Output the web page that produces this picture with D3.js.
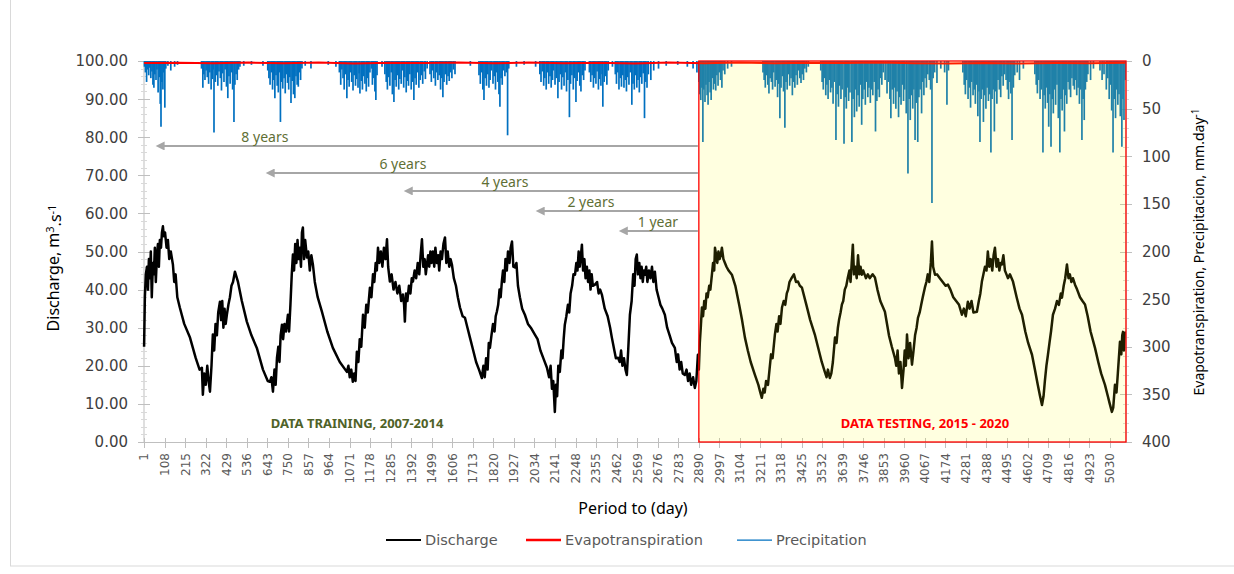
<!DOCTYPE html>
<html>
<head>
<meta charset="utf-8">
<title>Discharge, evapotranspiration and precipitation</title>
<script src="https://cdnjs.cloudflare.com/ajax/libs/d3/7.8.5/d3.min.js"></script>
<style>
  body { margin: 0; background: #fff; }
  svg { display: block; }
</style>
</head>
<body>
<svg id="chart" width="1234" height="574"></svg>
<script>

var nDays = 5114,
    splitDay = 2890;

// daily discharge, m3/s  [day, value]
var discharge = [
  [1,25],[5,38],[10,44],[16,46],[21,40],[26,48],[31,43],[36,50],[41,38],[47,47],[52,44],[57,51],[62,42],[68,49],
  [73,52],[78,46],[83,53],[89,51],[94,55],[99,56.6],[104,54],[110,55],[118,51],[125,53],[132,48],[140,50],
  [151,46.6],[158,42],[165,44],[174,38],[187,35.3],[210,31],[240,27.4],[270,22],[290,19],[302,19.5],[307,12.4],
  [314,18],[322,15],[330,20],[337,16],[344,13.2],[352,20],[359,28.2],[366,24],[373,31],[380,28],[387,34],
  [396,36.8],[402,32],[408,37],[414,30],[420,35],[426,31],[432,33.4],[440,36],[448,38],[456,41],[464,42],
  [474,44.7],[490,42],[510,37],[536,31.6],[560,28],[588,24.7],[620,19],[645,16],[656,15.8],[664,17],[672,13.2],
  [680,19],[686,15],[693,22.1],[700,25],[706,21],[712,28],[719,30.8],[725,27],[732,31],[740,29],[750,33.4],
  [756,29],[763,36],[770,44],[776,49.2],[782,45],[788,52],[794,47],[800,53],[806,48],[812,51],[818,46],[823,55],
  [828,56.3],[834,48],[840,53],[849,48.4],[856,50],[864,45],[872,49],[880,46.6],[890,42],[905,38],[927,34.2],
  [955,29],[984,24.7],[1020,21],[1057,18.4],[1065,20],[1072,17],[1080,19],[1088,15.8],[1095,18],[1102,16],
  [1109,23.7],[1117,21],[1124,27],[1132,25],[1141,33.4],[1150,30],[1158,36],[1166,34],[1177,40.5],[1185,38],
  [1193,44],[1200,42],[1207,47],[1213,45],[1219,51],[1226,47],[1234,50],[1242,46],[1250,51],[1258,48],
  [1266,53.2],[1272,46],[1281,42.1],[1290,44],[1300,40],[1310,42],[1320,39],[1330,41],[1340,37],[1349,38.7],
  [1355,36],[1359,31.6],[1365,39],[1372,37],[1380,41],[1388,39],[1395,43],[1401,42.1],[1410,45],[1418,43],
  [1426,47],[1434,44],[1441,49],[1448,53.2],[1455,46],[1462,48],[1468,44],[1474,46.6],[1480,49],[1486,46],
  [1492,50],[1498,47],[1505,50],[1512,46],[1518,51],[1525,47],[1532,49],[1538,45],[1545,50],[1552,48],
  [1560,52],[1568,53.7],[1575,47],[1582,50],[1590,46],[1597,48],[1604,46.6],[1614,43],[1625,41],[1635,38],
  [1646,35.3],[1660,33],[1672,32.6],[1685,30],[1698,27.4],[1715,24],[1730,21],[1745,19],[1760,16.8],[1768,20],
  [1775,17],[1782,22],[1790,19],[1796,26],[1802,24.7],[1810,28],[1818,31],[1826,29],[1832,33],[1838,34.2],
  [1845,36],[1852,40],[1858,38],[1864,42.1],[1870,45],[1877,42],[1883,48],[1890,45],[1896,50],[1904,47],
  [1910,51],[1917,52.6],[1924,46],[1932,45.8],[1940,47],[1948,41],[1958,38],[1970,35],[1984,33.4],[2000,31],
  [2015,30],[2036,28.2],[2050,27],[2065,24],[2080,22],[2099,19.5],[2110,17],[2118,20],[2125,14],[2132,16],
  [2140,7.9],[2146,15],[2152,12],[2158,20],[2166,18.4],[2174,24],[2180,22],[2186,27],[2192,30.8],[2200,33],
  [2208,36],[2215,34],[2222,39],[2230,41],[2237,44],[2245,43.9],[2252,47],[2258,45],[2264,50],[2270,46],
  [2276,49],[2281,51.8],[2287,45],[2294,48],[2300,43],[2307,46],[2313,42],[2320,45],[2326,40],[2332,44],
  [2338,41],[2349,41.3],[2360,42],[2368,39],[2376,40],[2385,38.7],[2400,35],[2415,33],[2428,30],[2437,27.4],
  [2450,24],[2458,22],[2469,22.1],[2478,21],[2485,24],[2492,20],[2500,22],[2508,19],[2515,17.6],[2522,24],
  [2531,33.4],[2540,37],[2548,44],[2555,41],[2561,48],[2567,49.2],[2573,44],[2580,47],[2586,43],[2592,46],
  [2598,42],[2604,45],[2609,43.9],[2616,46],[2622,42],[2630,45],[2638,43],[2646,46],[2653,42],[2661,44.7],
  [2670,40],[2680,38],[2690,36],[2700,35],[2713,33.4],[2725,30],[2738,28],[2750,26],[2765,24.7],[2775,21],
  [2782,23],[2790,19],[2798,21],[2806,18],[2817,17.6],[2826,19],[2834,16],[2842,18],[2850,15],[2860,17],
  [2869,14.2],[2877,16],[2885,22.9],[2890,19],[2895,26],[2900,30],[2906,35.3],[2912,33],[2918,37],[2924,35],
  [2930,39],[2936,38],[2944,41],[2950,40],[2958,43.9],[2964,47],[2970,45],[2974,51],[2980,49],[2986,47],
  [2992,50],[2998,48],[3004,49],[3010,51],[3018,48],[3026,47],[3034,46],[3045,45],[3062,43.9],[3080,41],
  [3100,36],[3115,32],[3130,27.4],[3145,24],[3160,21],[3182,17.6],[3200,15],[3210,13],[3218,11.6],[3226,14],
  [3233,13],[3240,16],[3250,15],[3258,19],[3266,23],[3274,22],[3286,28.2],[3294,31],[3300,29],[3308,33],
  [3315,31],[3323,35.3],[3332,37],[3340,36],[3348,39],[3355,40],[3362,42],[3375,43.2],[3385,44],[3396,42],
  [3406,42.1],[3416,41],[3427,40.5],[3450,36],[3470,32],[3494,28.2],[3510,25],[3530,21],[3546,18.4],[3555,17],
  [3562,19],[3572,16.8],[3580,18],[3588,21],[3599,27.4],[3607,26],[3614,30],[3620,32],[3628,34],[3635,36.1],
  [3642,37],[3650,40],[3658,41],[3666,43.2],[3674,45],[3680,42],[3686,47],[3692,51.8],[3698,44],[3705,46],
  [3712,43],[3719,49],[3726,44],[3732,46],[3739,43.9],[3746,45],[3753,44],[3760,43],[3770,44],[3780,43],
  [3795,44],[3807,43.2],[3820,40],[3835,37],[3859,34.2],[3880,28],[3895,25],[3911,22.1],[3918,20],[3925,24],
  [3932,18],[3940,21],[3948,14.2],[3956,19],[3962,24],[3968,20],[3974,28.2],[3982,22],[3990,26],[4000,20.3],
  [4008,24],[4016,28],[4024,30],[4031,32.6],[4040,34],[4048,36],[4056,38],[4067,40.5],[4075,42],[4082,44],
  [4090,42],[4098,47],[4104,52.6],[4110,46],[4120,43.9],[4130,44],[4145,43],[4160,42],[4175,41],[4187,41.3],
  [4200,40],[4215,38],[4230,37],[4245,36],[4260,33.4],[4270,35],[4280,33],[4291,36.8],[4300,35],[4310,37],
  [4320,34],[4338,34.2],[4348,37],[4356,39],[4364,42.1],[4372,44],[4380,46],[4388,45],[4395,50],[4402,46],
  [4410,48],[4418,45],[4425,49],[4432,51],[4440,46],[4448,48],[4455,45],[4462,47],[4468,46.6],[4476,49],
  [4484,45],[4492,44],[4500,43],[4510,44],[4526,42.1],[4545,38],[4560,35],[4573,33.4],[4590,29],[4605,26],
  [4625,22.9],[4640,19],[4655,15],[4667,12],[4677,9.7],[4685,12],[4692,16],[4700,20],[4708,22.9],[4716,26],
  [4724,29],[4734,33.4],[4745,35],[4755,37],[4765,36],[4775,39],[4781,37.9],[4790,41],[4798,43],[4807,46.6],
  [4815,43],[4822,44],[4830,42],[4838,43],[4849,41.3],[4860,40],[4875,38],[4888,37],[4901,36.1],[4915,33],
  [4930,29],[4953,24.7],[4970,21],[4985,18],[5005,15],[5020,12],[5030,10],[5041,7.9],[5048,9],[5057,15],
  [5065,13],[5072,18],[5080,24],[5083,26.3],[5090,23],[5095,28],[5099,28.9],[5104,24],[5108,29]
];

// daily precipitation, mm  [day, value]
var precipitation = [
  [3,6],[8,12],[14,22],[19,9],[25,15],[31,7],[36,18],[42,11],[47,25],[52,28],[57,14],[63,20],[68,9],[74,33],
  [80,17],[85,45],[89,69],[94,22],[99,30],[104,12],[109,49],[114,8],[125,5],[140,10],[160,6],[175,4],
  [300,8],[307,28],[312,14],[318,20],[324,10],[330,17],[337,24],[343,12],[350,30],[356,19],[361,9],[365,75],
  [372,22],[378,15],[385,26],[391,11],[398,18],[404,31],[410,13],[417,22],[423,9],[430,27],[437,39],[443,16],
  [449,24],[455,12],[462,30],[469,64],[474,25],[480,14],[486,20],[493,9],[500,6],[520,5],[560,4],
  [620,5],[645,10],[651,18],[657,25],[664,12],[670,30],[676,20],[682,39],[688,15],[694,26],[700,33],[706,12],
  [711,64],[717,22],[723,29],[730,18],[736,34],[742,14],[748,23],[754,30],[760,17],[766,44],[772,21],[779,35],
  [786,39],[792,16],[798,25],[804,27],[810,12],[816,20],[823,8],[840,5],[870,8],
  [960,4],[1000,6],[1018,12],[1025,25],[1031,9],[1037,18],[1043,30],[1050,14],[1057,39],[1063,20],[1069,27],
  [1076,12],[1082,22],[1089,31],[1095,15],[1102,26],[1108,19],[1115,28],[1121,13],[1125,34],[1132,21],
  [1138,30],[1145,16],[1151,24],[1158,32],[1164,18],[1170,27],[1177,12],[1185,8],[1190,25],[1197,18],
  [1203,32],[1208,41],[1214,15],
  [1240,6],[1255,14],[1262,22],[1268,30],[1275,17],[1281,26],[1288,12],[1294,35],[1302,43],[1308,20],
  [1314,27],[1321,15],[1327,30],[1333,19],[1340,24],[1346,10],[1353,28],[1359,17],[1366,33],[1372,21],
  [1378,26],[1385,14],[1392,30],[1399,22],[1406,41],[1412,18],[1418,25],[1425,12],[1432,28],[1439,20],
  [1446,15],[1452,24],[1460,11],[1466,19],[1475,8],[1490,14],[1497,22],[1503,10],[1510,18],[1518,26],
  [1524,12],[1531,20],[1538,15],[1545,30],[1551,18],[1557,38],[1563,22],[1570,14],[1577,25],[1584,16],
  [1590,21],[1597,12],[1604,18],[1612,9],[1620,14],
  [1700,5],[1745,15],[1752,24],[1758,12],[1765,30],[1771,41],[1777,18],[1784,26],[1790,14],[1797,28],
  [1803,20],[1810,10],[1818,24],[1824,16],[1831,30],[1837,12],[1843,22],[1849,35],[1854,48],[1860,18],
  [1866,25],[1872,10],[1880,16],[1887,12],[1894,78],[1900,8],[1940,6],[1980,4],
  [2040,6],[2062,14],[2068,22],[2075,11],[2082,26],[2088,18],[2095,30],[2101,12],[2108,24],[2115,16],
  [2121,28],[2128,20],[2134,10],[2141,25],[2148,18],[2156,39],[2162,22],[2169,14],[2175,30],[2182,17],
  [2188,26],[2195,12],[2201,32],[2208,20],[2216,59],[2222,24],[2229,15],[2236,30],[2243,18],[2250,43],
  [2256,21],[2263,12],[2270,26],[2276,32],[2283,15],[2290,20],[2297,10],
  [2320,12],[2327,22],[2334,15],[2341,28],[2347,18],[2354,24],[2360,11],[2367,30],[2373,19],[2380,26],
  [2386,14],[2390,48],[2397,22],[2404,16],[2411,25],[2418,10],
  [2440,6],[2455,14],[2461,24],[2468,12],[2474,30],[2481,18],[2487,27],[2494,15],[2500,28],[2507,20],
  [2513,32],[2519,17],[2526,25],[2533,12],[2541,46],[2547,24],[2554,30],[2560,15],[2567,28],[2573,20],
  [2580,33],[2586,17],[2593,24],[2600,13],[2607,60],[2613,22],[2620,28],[2627,14],[2640,20],[2655,10],
  [2680,8],[2720,5],[2780,4],[2830,6],[2860,8],[2880,12],
  [2890,22],[2895,35],[2900,41],[2906,28],[2911,85],[2916,30],[2922,43],[2927,25],[2933,36],[2938,46],
  [2943,22],[2949,33],[2954,41],[2960,18],[2966,30],[2972,24],[2978,31],[2984,15],[2990,26],[2996,12],
  [3003,20],[3010,28],[3016,10],[3025,14],[3040,8],[3060,6],
  [3224,12],[3230,20],[3236,28],[3242,15],[3249,25],[3255,34],[3261,18],[3268,22],[3274,30],[3280,12],
  [3287,27],[3293,20],[3300,38],[3306,24],[3312,60],[3318,28],[3325,16],[3331,32],[3338,70],[3344,22],
  [3350,30],[3357,14],[3363,26],[3370,18],[3377,36],[3383,22],[3390,28],[3396,15],[3403,25],[3409,10],
  [3416,18],[3422,23],[3428,14],[3435,20],[3442,8],[3450,12],[3460,6],
  [3525,10],[3532,22],[3538,30],[3545,18],[3551,36],[3557,25],[3563,40],[3570,20],[3576,33],[3583,28],
  [3589,45],[3596,22],[3604,83],[3610,35],[3617,48],[3623,26],[3630,40],[3636,30],[3646,87],[3652,38],
  [3658,50],[3664,28],[3670,42],[3677,33],[3687,85],[3693,40],[3700,59],[3706,30],[3712,53],[3719,36],
  [3725,48],[3731,25],[3738,67],[3744,40],[3751,30],[3757,46],[3763,22],[3770,38],[3776,28],[3783,44],
  [3790,30],[3796,36],[3803,22],[3810,74],[3817,42],[3823,30],[3830,38],[3836,18],[3843,25],[3850,12],
  [3860,20],[3870,34],[3877,22],[3885,40],[3890,60],[3897,30],[3904,45],[3910,28],[3916,50],[3922,32],
  [3930,59],[3936,38],[3943,46],[3950,25],[3956,42],[3962,30],[3970,55],[3979,118],[3985,40],[3991,62],
  [3997,36],[4004,50],[4010,30],[4016,83],[4022,44],[4030,85],[4036,38],[4042,30],[4050,55],[4056,22],
  [4062,36],[4068,18],[4075,28],[4082,14],[4090,20],[4097,30],[4104,149],[4110,18],[4118,12],[4130,23],
  [4150,8],[4170,12],[4182,46],[4190,10],
  [4265,12],[4272,25],[4278,35],[4285,20],[4292,40],[4298,28],[4305,49],[4311,22],[4318,36],[4324,30],
  [4330,45],[4337,25],[4343,58],[4349,32],[4354,85],[4360,40],[4366,30],[4372,64],[4378,36],[4385,50],
  [4391,28],[4398,42],[4404,35],[4411,96],[4417,40],[4423,30],[4429,74],[4436,32],[4442,45],[4448,20],
  [4455,30],[4462,38],[4468,16],[4475,26],[4482,14],[4490,20],[4497,30],[4503,40],[4510,22],[4515,34],
  [4521,83],[4528,28],[4535,15],[4548,12],[4560,20],[4580,8],
  [4640,14],[4647,25],[4653,34],[4660,20],[4667,40],[4673,30],[4682,96],[4688,36],[4694,50],[4700,28],
  [4706,44],[4712,69],[4718,35],[4724,90],[4730,40],[4736,55],[4742,30],[4748,46],[4755,25],[4762,60],
  [4770,96],[4776,40],[4782,52],[4788,30],[4794,74],[4800,36],[4806,45],[4813,22],[4819,30],[4826,38],
  [4833,18],[4840,26],[4846,30],[4852,20],[4858,36],[4865,28],[4872,45],[4878,30],[4885,83],[4891,40],
  [4897,62],[4903,30],[4910,22],[4916,14],[4930,20],[4945,8],
  [4979,10],[4990,20],[5000,14],[5012,30],[5020,18],[5027,40],[5033,25],[5040,52],[5047,96],[5053,40],
  [5060,60],[5066,30],[5072,46],[5078,35],[5085,58],[5093,90],[5099,40],[5104,62],[5110,20]
];

// evapotranspiration, mm/day  [day, value]
var evapotranspiration = [
  [1,2.2],[180,1.8],[365,2.4],[545,1.6],[730,2.3],[910,1.7],[1095,2.5],[1275,1.8],[1460,2.2],[1640,1.6],
  [1825,2.4],[2005,1.7],[2190,2.3],[2370,1.8],[2555,2.5],[2735,1.7],[2920,2.3],[3100,1.6],[3285,2.4],
  [3465,1.8],[3650,2.2],[3830,1.7],[4015,2.4],[4195,2.5],[4380,2.0],[4560,2.6],[4745,2.1],[4925,2.4],[5110,1.9]
];

var xTickLabels = [1,108,215,322,429,536,643,750,857,964,1071,1178,1285,1392,1499,1606,1713,1820,1927,2034,
  2141,2248,2355,2462,2569,2676,2783,2890,2997,3104,3211,3318,3425,3532,3639,3746,3853,3960,4067,4174,
  4281,4388,4495,4602,4709,4816,4923,5030];
var leftTicks = [0,10,20,30,40,50,60,70,80,90,100];
var rightTicks = [0,50,100,150,200,250,300,350,400];

// horizon arrows: point back from the split day to tipDay, at a discharge level
var horizons = [
  {label: '8 years', tipDay: 57,   level: 77.7, labelDay: 630},
  {label: '6 years', tipDay: 630,  level: 70.6, labelDay: 1349},
  {label: '4 years', tipDay: 1349, level: 65.9, labelDay: 1880},
  {label: '2 years', tipDay: 2036, level: 60.6, labelDay: 2328},
  {label: '1 year',  tipDay: 2469, level: 55.4, labelDay: 2677}
];

var legendItems = [
  {name: 'Discharge', color: '#000000', width: 2},
  {name: 'Evapotranspiration', color: '#ff0000', width: 2.5},
  {name: 'Precipitation', color: '#0070c0', width: 1.25}
];

var svg = d3.select('#chart'),
    plotLeft = 144,
    plotRight = 1126,
    plotTop = 61,
    plotBottom = 442,
    tickFont = '"DejaVu Sans", Verdana, sans-serif',
    titleFont = '"Noto Sans", "Open Sans", sans-serif';

var x = d3.scaleLinear().domain([0.5, nDays + 0.5]).range([plotLeft, plotRight]),
    yQ = d3.scaleLinear().domain([0, 100]).range([plotBottom, plotTop]),
    yP = d3.scaleLinear().domain([0, 400]).range([plotTop, plotBottom]);

// outer chart frame
svg.append('rect')
    .attr('x', 10.5).attr('y', -2).attr('width', 1230).attr('height', 568)
    .attr('fill', 'none').attr('stroke', '#d9d9d9');

// ---- axes ----
var axisColor = '#bfbfbf';

function drawYAxis(scale, xPos, major, minorStep, fmt, labelX, anchor) {
    var g = svg.append('g');
    g.append('line').attr('x1', xPos).attr('x2', xPos)
        .attr('y1', plotTop).attr('y2', plotBottom).attr('stroke', axisColor);
    var dom = scale.domain();
    var minor = d3.range(dom[0], dom[1] + 0.001, minorStep);
    g.selectAll('.minor').data(minor).join('line')
        .attr('x1', xPos - 3).attr('x2', xPos + 3)
        .attr('y1', function (d) { return Math.round(scale(d)) + 0.5; })
        .attr('y2', function (d) { return Math.round(scale(d)) + 0.5; })
        .attr('stroke', '#d9d9d9');
    g.selectAll('.major').data(major).join('line')
        .attr('x1', xPos - 6).attr('x2', xPos + 6)
        .attr('y1', function (d) { return Math.round(scale(d)) + 0.5; })
        .attr('y2', function (d) { return Math.round(scale(d)) + 0.5; })
        .attr('stroke', axisColor);
    g.selectAll('text').data(major).join('text')
        .attr('x', labelX)
        .attr('y', function (d) { return scale(d); })
        .attr('dy', '0.36em')
        .attr('text-anchor', anchor)
        .attr('font-family', tickFont)
        .attr('font-size', 15)
        .attr('fill', '#404040')
        .text(fmt);
}

drawYAxis(yQ, plotLeft, leftTicks, 2, d3.format('.2f'), 128, 'end');
drawYAxis(yP, plotRight, rightTicks, 10, function (d) { return d; }, 1142, 'start');

// x axis
var xg = svg.append('g');
xg.append('line').attr('x1', plotLeft).attr('x2', plotRight)
    .attr('y1', plotBottom + 0.5).attr('y2', plotBottom + 0.5).attr('stroke', axisColor);
xg.selectAll('.xt').data(xTickLabels).join('line')
    .attr('x1', function (d) { return Math.round(x(d)) + 0.5; })
    .attr('x2', function (d) { return Math.round(x(d)) + 0.5; })
    .attr('y1', plotBottom - 4).attr('y2', plotBottom + 6)
    .attr('stroke', axisColor);
xg.selectAll('text').data(xTickLabels).join('text')
    .attr('transform', function (d) { return 'translate(' + x(d) + ',' + (plotBottom + 11) + ') rotate(-90)'; })
    .attr('dy', '0.36em')
    .attr('text-anchor', 'end')
    .attr('font-family', tickFont)
    .attr('font-size', 12)
    .attr('fill', '#595959')
    .text(function (d) { return d; });

// ---- series ----
svg.append('g').selectAll('line').data(precipitation).join('line')
    .attr('x1', function (d) { return x(d[0]); })
    .attr('x2', function (d) { return x(d[0]); })
    .attr('y1', yP(0))
    .attr('y2', function (d) { return yP(d[1]); })
    .attr('stroke', '#0070c0')
    .attr('stroke-width', 1.7);

svg.append('path')
    .datum(evapotranspiration)
    .attr('fill', 'none')
    .attr('stroke', '#ff0000')
    .attr('stroke-width', 2)
    .attr('d', d3.line()
        .x(function (d) { return x(d[0]); })
        .y(function (d) { return yP(d[1]); }));

svg.append('path')
    .datum(discharge)
    .attr('fill', 'none')
    .attr('stroke', '#000000')
    .attr('stroke-width', 2.5)
    .attr('stroke-linejoin', 'round')
    .attr('d', d3.line()
        .x(function (d) { return x(d[0]); })
        .y(function (d) { return yQ(d[1]); }));

// testing period box
svg.append('rect')
    .attr('x', x(splitDay))
    .attr('y', plotTop)
    .attr('width', plotRight - x(splitDay))
    .attr('height', plotBottom - plotTop)
    .attr('fill', '#ffff00')
    .attr('fill-opacity', 0.12)
    .attr('stroke', '#ff0000')
    .attr('stroke-width', 1.3);

// ---- horizon arrows ----
var arrowColor = '#a6a6a6';
svg.append('defs').append('marker')
    .attr('id', 'head')
    .attr('viewBox', '0 0 10 10')
    .attr('refX', 2).attr('refY', 5)
    .attr('markerWidth', 5).attr('markerHeight', 4.5)
    .attr('orient', 'auto')
    .append('path').attr('d', 'M0,0 L10,5 L0,10 Z').attr('fill', arrowColor);

var hz = svg.append('g').selectAll('g').data(horizons).join('g');
hz.append('line')
    .attr('x1', x(splitDay) - 1)
    .attr('x2', function (d) { return x(d.tipDay) + 8; })
    .attr('y1', function (d) { return yQ(d.level); })
    .attr('y2', function (d) { return yQ(d.level); })
    .attr('stroke', arrowColor)
    .attr('stroke-width', 2)
    .attr('marker-end', 'url(#head)');
hz.append('text')
    .attr('x', function (d) { return x(d.labelDay); })
    .attr('y', function (d) { return yQ(d.level) - 4; })
    .attr('text-anchor', 'middle')
    .attr('font-family', titleFont)
    .attr('font-size', 14)
    .attr('fill', '#5f6f35')
    .text(function (d) { return d.label; });

// period labels
svg.append('text')
    .attr('x', 357).attr('y', 428)
    .attr('text-anchor', 'middle')
    .attr('font-family', titleFont).attr('font-weight', 'bold').attr('font-size', 13)
    .attr('fill', '#4f6228')
    .text('DATA TRAINING, 2007-2014');
svg.append('text')
    .attr('x', 925).attr('y', 428)
    .attr('text-anchor', 'middle')
    .attr('font-family', titleFont).attr('font-weight', 'bold').attr('font-size', 13)
    .attr('fill', '#ff0000')
    .text('DATA TESTING, 2015 - 2020');

// ---- axis titles ----
var lt = svg.append('text')
    .attr('transform', 'translate(53,268) rotate(-90)')
    .attr('text-anchor', 'middle')
    .attr('dy', '0.35em')
    .attr('font-family', titleFont).attr('font-size', 16).attr('fill', '#000');
lt.append('tspan').text('Discharge, m');
lt.append('tspan').attr('dy', '-0.45em').attr('font-size', 11).text('3');
lt.append('tspan').attr('dy', '0.45em').text('.s');
lt.append('tspan').attr('dy', '-0.45em').attr('font-size', 11).text('-1');

var rt = svg.append('text')
    .attr('transform', 'translate(1199,252) rotate(-90)')
    .attr('text-anchor', 'middle')
    .attr('dy', '0.35em')
    .attr('font-family', titleFont).attr('font-size', 14).attr('fill', '#000');
rt.append('tspan').text('Evapotranspiration, Precipitacion, mm.day');
rt.append('tspan').attr('dy', '-0.45em').attr('font-size', 10).text('-1');

svg.append('text')
    .attr('x', 633).attr('y', 508)
    .attr('dy', '0.35em')
    .attr('text-anchor', 'middle')
    .attr('font-family', titleFont).attr('font-size', 16).attr('fill', '#000')
    .text('Period to (day)');

// ---- legend ----
var legendX = [386, 526, 737];
var lg = svg.append('g').selectAll('g').data(legendItems).join('g')
    .attr('transform', function (d, i) { return 'translate(' + legendX[i] + ',540)'; });
lg.append('line')
    .attr('x1', 0).attr('x2', 35)
    .attr('stroke', function (d) { return d.color; })
    .attr('stroke-width', function (d) { return d.width; });
lg.append('text')
    .attr('x', 39)
    .attr('dy', '0.35em')
    .attr('font-family', tickFont).attr('font-size', 14.5).attr('fill', '#595959')
    .text(function (d) { return d.name; });

</script>
</body>
</html>
